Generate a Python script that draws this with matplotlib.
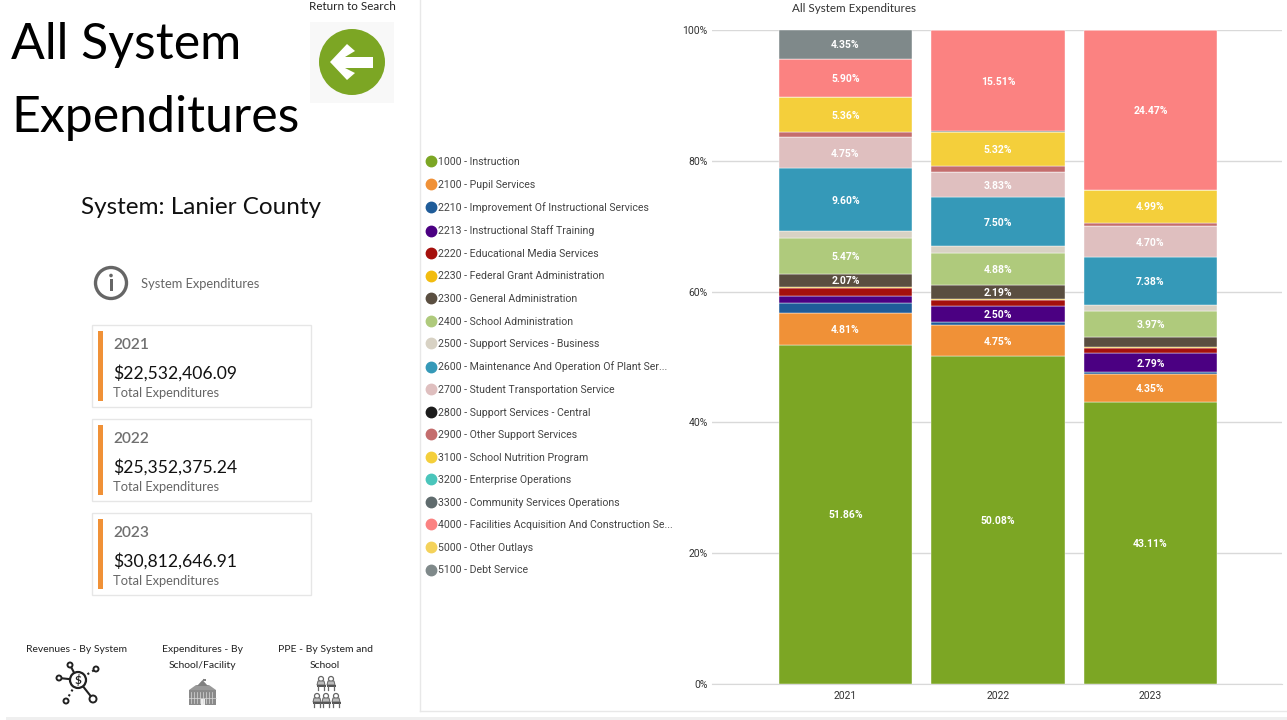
import matplotlib
matplotlib.use('Agg')
import matplotlib.pyplot as plt
from matplotlib.lines import Line2D
from matplotlib.patches import Circle, Polygon, Rectangle

plt.rcParams['font.family'] = ['Lato', 'DejaVu Sans']

years = ['2021', '2022', '2023']
y_ticks = [0, 20, 40, 60, 80, 100]

categories = [
    '1000 - Instruction',
    '2100 - Pupil Services',
    '2210 - Improvement Of Instructional Services',
    '2213 - Instructional Staff Training',
    '2220 - Educational Media Services',
    '2230 - Federal Grant Administration',
    '2300 - General Administration',
    '2400 - School Administration',
    '2500 - Support Services - Business',
    '2600 - Maintenance And Operation Of Plant Ser...',
    '2700 - Student Transportation Service',
    '2800 - Support Services - Central',
    '2900 - Other Support Services',
    '3100 - School Nutrition Program',
    '3200 - Enterprise Operations',
    '3300 - Community Services Operations',
    '4000 - Facilities Acquisition And Construction Se...',
    '5000 - Other Outlays',
    '5100 - Debt Service',
]
colors = [
    '#7CA624', '#F09137', '#1F5C99', '#4B0082', '#A5100D', '#F2BC0F', '#5A4E40',
    '#AFCA7C', '#D8D2C4', '#3599B8', '#DFBFBF', '#1C1C1C', '#C46D6D', '#F4CF3B',
    '#4AC5BB', '#5F6B6D', '#FB8281', '#F4D25A', '#7F898A',
]

# percent of total per category, one list per year
share_2021 = [51.86, 4.81, 1.55, 1.15, 1.15, 0.15, 2.07, 5.47, 1.05, 9.60, 4.75,
              0.05, 0.70, 5.36, 0, 0, 5.90, 0, 4.35]
share_2022 = [50.08, 4.75, 0.45, 2.50, 0.90, 0.15, 2.19, 4.88, 1.05, 7.50, 3.83,
              0.05, 0.80, 5.32, 0, 0.04, 15.51, 0, 0]
share_2023 = [43.11, 4.35, 0.30, 2.79, 0.90, 0.05, 1.60, 3.97, 0.85, 7.38, 4.70,
              0, 0.55, 4.99, 0, 0, 24.47, 0, 0]
shares = [share_2021, share_2022, share_2023]

totals = ['$22,532,406.09', '$25,352,375.24', '$30,812,646.91']

W, H = 1287, 720
fig = plt.figure(figsize=(W / 100, H / 100), dpi=100)

# chart area, from the gridline ends and the 0%/100% positions
ax = fig.add_axes([712 / W, 1 - 684 / H, 570 / W, 654 / H])
bottoms = [0.0, 0.0, 0.0]
for i, cat in enumerate(categories):
    vals = [s[i] for s in shares]
    ax.bar(range(3), vals, width=0.875, bottom=bottoms, color=colors[i],
           edgecolor='white', linewidth=0.3, zorder=3)
    for j, v in enumerate(vals):
        if v >= 2:
            ax.text(j, bottoms[j] + v / 2 - 0.15, f'{v:.2f}%', ha='center', va='center',
                    color='white', fontsize=7.5, fontweight='bold',
                    family=['Roboto', 'DejaVu Sans'], zorder=4)
    bottoms = [b + v for b, v in zip(bottoms, vals)]

ax.set_xlim(-0.875, 2.862)
ax.set_ylim(0, 100)
ax.set_xticks(range(3), years)
ax.set_yticks(y_ticks, [f'{t}%' for t in y_ticks])
ax.tick_params(length=0, labelsize=7.5, labelcolor='#333333')
ax.tick_params(axis='x', pad=5)
ax.tick_params(axis='y', pad=3)
ax.grid(axis='y', color='#D9D9D9', linewidth=1, zorder=0)
ax.spines[['top', 'left', 'right']].set_visible(False)
ax.spines['bottom'].set_color('#D9D9D9')
for lab in ax.get_xticklabels() + ax.get_yticklabels():
    lab.set_family(['Roboto', 'DejaVu Sans'])

handles = [Line2D([], [], linestyle='', marker='o', markersize=7.5, color=c) for c in colors]
fig.legend(handles, categories, loc='upper left', bbox_to_anchor=(427 / W, 1 - 157 / H),
           frameon=False, handlelength=0.8, handletextpad=0.2, borderpad=0, borderaxespad=0,
           labelspacing=1.187, labelcolor='#444444',
           prop={'family': ['Roboto', 'DejaVu Sans'], 'size': 7.6})

# everything else is placed in pixel coordinates of the page
page = fig.add_axes([0, 0, 1, 1], zorder=5)
page.set_xlim(0, W)
page.set_ylim(H, 0)
page.axis('off')
page.patch.set_alpha(0)


def label(x, y, s, size, color='#222222', ha='left', **kw):
    page.text(x, y, s, fontsize=size, color=color, ha=ha, va='center', **kw)


label(11, 45, 'All System', 36, color='black')
label(11, 118, 'Expenditures', 36, color='black')
label(201, 207, 'System: Lanier County', 17.5, color='#111111', ha='center')
label(352, 7, 'Return to Search', 8.4, ha='center')
label(141, 284, 'System Expenditures', 9.3, color='#666666')
label(854, 8, 'All System Expenditures', 8.4, color='#333333', ha='center')

# page separators
page.plot([420, 420], [0, 711], color='#E8E8E8', lw=1)
page.plot([420, W], [711, 711], color='#E8E8E8', lw=1)
page.add_patch(Rectangle((6, 717), W, 3, color='#EFEFEF', lw=0))

# back button
page.add_patch(Rectangle((310, 22), 84, 81, color='#F8F8F8', lw=0))
page.add_patch(Circle((352, 62), 33, color='#7CA624', lw=0))
page.add_patch(Polygon([(330, 62), (347, 44), (355, 51), (345, 57), (373, 57), (373, 68),
                        (345, 68), (355, 73), (347, 80)], color='white', lw=0))

# info icon
page.add_patch(Circle((111, 283), 15.5, fc='none', ec='#666666', lw=2.4))
page.add_patch(Circle((111, 275.5), 1.8, color='#666666', lw=0))
page.add_patch(Rectangle((109.5, 279), 3, 12, color='#666666', lw=0))

# total cards
for i, (year, total) in enumerate(zip(years, totals)):
    top = 325 + 94 * i
    page.add_patch(Rectangle((92, top), 219, 82, fc='white', ec='#E6E6E6', lw=1))
    page.add_patch(Rectangle((98, top + 6), 5, 70, color='#F09137', lw=0))
    label(113, top + 20, year, 11.2, color='#707070', fontweight='semibold')
    label(113, top + 48, total, 12.6, color='#111111')
    label(113, top + 68, 'Total Expenditures', 9.3, color='#666666')

# bottom nav
label(77, 650, 'Revenues - By System', 7.5, ha='center')
label(202, 650, 'Expenditures - By', 7.5, ha='center')
label(202, 665, 'School/Facility', 7.5, ha='center')
label(325, 650, 'PPE - By System and', 7.5, ha='center')
label(325, 665, 'School', 7.5, ha='center')

# dollar network icon
page.add_patch(Circle((78, 680), 8, fc='white', ec='#222222', lw=1.6, zorder=3))
label(78, 680, '$', 8.5, color='#222222', ha='center', fontweight='bold', zorder=4)
for nx, ny, r, style in [(70, 665, 2.5, '-'), (96, 669, 2.5, ':'), (59, 678, 2.5, '-'),
                         (66, 701, 2.5, ':'), (93, 699, 3.5, '-')]:
    page.plot([78, nx], [680, ny], color='#222222', lw=1.5, ls=style, zorder=1)
    page.add_patch(Circle((nx, ny), r, fc='white', ec='#222222', lw=1.4, zorder=2))

# school icon
page.add_patch(Rectangle((189, 690), 27, 15, color='#8A8A8A', lw=0))
page.add_patch(Polygon([(189, 690), (196, 685), (209, 685), (216, 690)], color='#999999', lw=0))
page.add_patch(Polygon([(197, 686), (202.5, 680), (208, 686)], color='#808080', lw=0))
page.plot([203, 203], [680, 679], color='#808080', lw=0.8)
page.add_patch(Rectangle((203, 679), 3, 2, color='#808080', lw=0))
for wx in range(191, 215, 3):
    page.plot([wx, wx], [692, 703], color='#D8D8D8', lw=0.5)
page.plot([189, 216], [697.5, 697.5], color='#D8D8D8', lw=0.5)
page.add_patch(Rectangle((200.5, 699), 4, 6, color='#EEEEEE', lw=0))

# classroom icon
for dx, dy in [(321, 683), (331, 683), (317, 700), (326, 700), (336, 700)]:
    page.add_patch(Circle((dx, dy - 4), 2.5, fc='white', ec='#666666', lw=0.9))
    page.add_patch(Polygon([(dx - 4, dy + 2), (dx - 3, dy - 2), (dx + 3, dy - 2), (dx + 4, dy + 2)],
                           fc='#BBBBBB', ec='#666666', lw=0.7))
    page.add_patch(Rectangle((dx - 4.5, dy + 2), 9, 2, color='#555555', lw=0))
    page.plot([dx - 3, dx - 3], [dy + 3, dy + 7], color='#666666', lw=0.9)
    page.plot([dx + 3, dx + 3], [dy + 3, dy + 7], color='#666666', lw=0.9)

fig.savefig('out.png', dpi=100)
